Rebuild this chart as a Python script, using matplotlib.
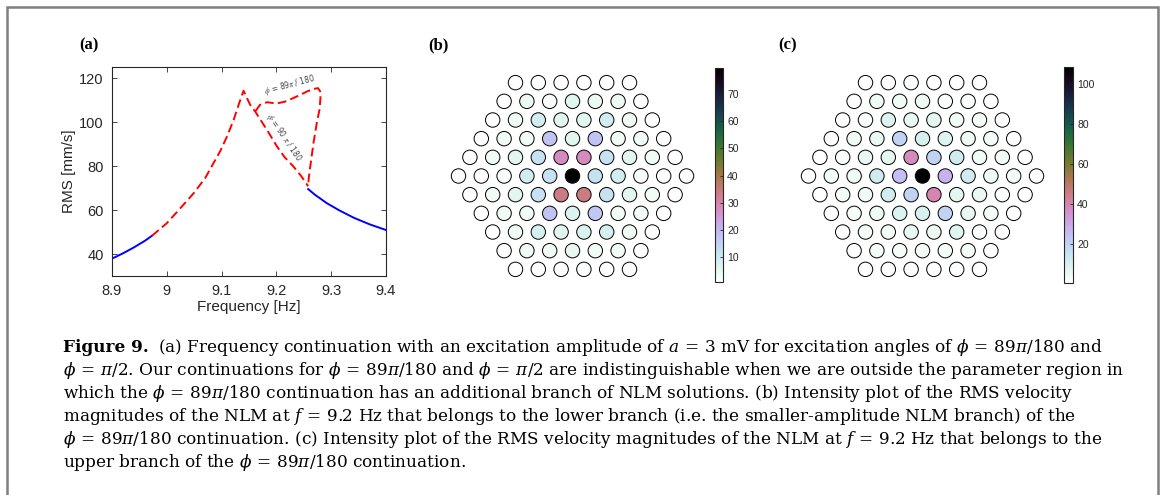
import numpy as np
import matplotlib
matplotlib.use("Agg")
import matplotlib.pyplot as plt
from matplotlib.patches import Rectangle

plt.rcParams['mathtext.fontset'] = 'stix'
plt.rcParams['font.family'] = ['Liberation Sans', 'DejaVu Sans']

# ---- panel (a): frequency continuation ----
blue_left_f = [8.9, 8.92, 8.94, 8.96, 8.973]
blue_left_rms = [37.9, 40.3, 43.0, 46.0, 48.3]
blue_right_f = [9.258, 9.27, 9.292, 9.315, 9.341, 9.37, 9.4]
blue_right_rms = [69.5, 67.0, 63.1, 59.8, 56.5, 53.5, 50.9]
lower_f = [8.973, 9.0, 9.02, 9.049, 9.07, 9.098, 9.11, 9.122, 9.132, 9.14,
           9.146, 9.152, 9.162, 9.171, 9.185, 9.201, 9.215, 9.231, 9.245, 9.258]
lower_rms = [48.3, 54.0, 59.5, 67.6, 74.5, 87.0, 93.5, 101.0, 108.5, 114.2,
             111.0, 107.9, 104.5, 101.0, 95.5, 88.9, 84.0, 79.8, 75.5, 70.8]
upper_f = [9.162, 9.17, 9.183, 9.2, 9.215, 9.231, 9.245, 9.256, 9.268, 9.276,
           9.281, 9.279, 9.274, 9.268, 9.263, 9.259, 9.258]
upper_rms = [105.0, 107.8, 109.0, 108.4, 109.2, 110.9, 112.5, 113.9, 115.0, 115.4,
             113.5, 106.0, 100.0, 91.0, 82.0, 74.5, 70.8]
xticks_a = [8.9, 9.0, 9.1, 9.2, 9.3, 9.4]
xticklabels_a = ['8.9', '9', '9.1', '9.2', '9.3', '9.4']
yticks_a = [40, 60, 80, 100, 120]

# ---- panels (b), (c): RMS velocity of each cell, hex rows top to bottom ----
rms_lower = [
    [1.0, 1.2, 1.0, 1.1, 1.0, 1.0],
    [1.0, 4.0, 2.0, 6.0, 4.0, 4.0, 1.0],
    [1.0, 3.0, 9.0, 6.0, 6.0, 9.0, 3.0, 1.0],
    [1.0, 3.0, 3.0, 18.0, 6.0, 18.0, 3.0, 3.0, 1.0],
    [1.0, 3.0, 6.0, 12.0, 28.0, 28.0, 12.0, 6.0, 3.0, 1.0],
    [0.8, 1.0, 2.0, 9.0, 12.0, 79.6, 12.0, 9.0, 2.0, 1.0, 0.8],
    [1.0, 3.0, 6.0, 12.0, 34.0, 34.0, 12.0, 6.0, 3.0, 1.0],
    [1.0, 3.0, 3.0, 18.0, 7.0, 17.0, 3.0, 3.0, 1.0],
    [1.0, 3.0, 8.0, 6.0, 7.0, 8.0, 3.0, 1.0],
    [1.0, 3.0, 3.0, 5.0, 3.0, 3.0, 1.0],
    [1.0, 1.1, 1.0, 1.2, 1.0, 1.0],
]
rms_upper = [
    [1.0, 1.0, 1.2, 1.0, 1.0, 1.0],
    [1.0, 4.0, 4.0, 4.0, 2.0, 2.0, 1.0],
    [1.0, 1.5, 9.0, 6.0, 7.0, 4.0, 3.0, 1.0],
    [1.0, 4.0, 6.0, 20.0, 10.0, 9.0, 4.0, 3.0, 1.0],
    [1.0, 1.5, 6.0, 7.0, 38.0, 20.0, 12.0, 4.0, 3.0, 1.0],
    [0.6, 3.0, 4.0, 12.0, 25.0, 108.5, 28.0, 12.0, 4.0, 3.0, 0.6],
    [1.0, 3.0, 4.0, 12.0, 20.0, 40.0, 7.0, 6.0, 1.5, 1.0],
    [1.0, 3.0, 4.0, 9.0, 10.0, 20.0, 6.0, 3.0, 1.0],
    [1.0, 3.0, 3.0, 6.0, 5.0, 8.0, 1.5, 1.0],
    [1.0, 3.0, 3.0, 3.0, 3.0, 3.0, 1.0],
    [1.0, 1.0, 1.0, 1.0, 1.2, 1.0],
]
cbar_ticks_lower = [10, 20, 30, 40, 50, 60, 70]
cbar_ticks_upper = [20, 40, 60, 80, 100]

caption_head = "Figure 9."
caption_lines = [
    r"(a) Frequency continuation with an excitation amplitude of $a\,=\,3$ mV for excitation angles of $\phi\,=\,89\pi/180$ and",
    r"$\phi\,=\,\pi/2$. Our continuations for $\phi\,=\,89\pi/180$ and $\phi\,=\,\pi/2$ are indistinguishable when we are outside the parameter region in",
    r"which the $\phi\,=\,89\pi/180$ continuation has an additional branch of NLM solutions. (b) Intensity plot of the RMS velocity",
    r"magnitudes of the NLM at $f\,=\,9.2$ Hz that belongs to the lower branch (i.e. the smaller-amplitude NLM branch) of the",
    r"$\phi\,=\,89\pi/180$ continuation. (c) Intensity plot of the RMS velocity magnitudes of the NLM at $f\,=\,9.2$ Hz that belongs to the",
    r"upper branch of the $\phi\,=\,89\pi/180$ continuation.",
]

W, H = 1163, 495
fig = plt.figure(figsize=(W / 100, H / 100), dpi=100)


def px_axes(x0, y0, x1, y1):
    # axes from pixel box (top-left origin)
    return fig.add_axes([x0 / W, 1 - y1 / H, (x1 - x0) / W, (y1 - y0) / H])


# frame around the figure
fig.patches.append(Rectangle((7 / W, -0.2), (1158 - 7) / W, 1.2 - 7 / H,
                             transform=fig.transFigure, fill=False,
                             edgecolor='#7f7f7f', lw=1.8, clip_on=False))

# ---- (a) ----
ax = px_axes(112, 67, 386, 276)
dash = (4.5, 2.2)
ax.plot(blue_left_f, blue_left_rms, color='#0000ff', lw=1.4)
ax.plot(blue_right_f, blue_right_rms, color='#0000ff', lw=1.4)
ax.plot(lower_f, lower_rms, color='#ff0000', lw=1.4, dashes=dash)
ax.plot(upper_f, upper_rms, color='#ff0000', lw=1.4, dashes=dash)
ax.set_xlim(8.9, 9.4)
ax.set_ylim(30, 125)
ax.set_xticks(xticks_a)
ax.set_xticklabels(xticklabels_a)
ax.set_yticks(yticks_a)
ax.tick_params(direction='in', top=True, right=True, length=3.5, width=0.6,
               labelsize=10.5, colors='#262626', pad=6)
for s in ax.spines.values():
    s.set_linewidth(0.8)
    s.set_color('#262626')
ax.set_xlabel('Frequency [Hz]', fontsize=11, color='#262626', labelpad=1)
ax.set_ylabel('RMS [mm/s]', fontsize=11, color='#262626', labelpad=2)
ax.text(9.224, 117.0, r'$\phi$ = 89$\pi$ / 180', fontsize=5.5, color='#444444',
        rotation=15, ha='center', va='center', family='DejaVu Sans')
ax.text(9.213, 93.0, r'$\phi$ = 90 $\pi$ / 180', fontsize=5.5, color='#444444',
        rotation=-56, ha='center', va='center', family='DejaVu Sans')


def hex_panel(vals, box, cbox, ticks):
    axh = px_axes(*box)
    xs, ys, cs = [], [], []
    nrows = len(vals)
    for i, row in enumerate(vals):
        n = len(row)
        xs += list(np.arange(n) - (n - 1) / 2)
        ys += [(nrows - 1) / 2 - i] * n
        cs += row
    sc = axh.scatter(xs, ys, c=cs, cmap='cubehelix_r', s=108,
                     edgecolors='black', linewidths=0.7,
                     vmin=min(cs), vmax=max(cs))
    # pixel spacing 22.8 (x), 18.67 (y)
    wpx = box[2] - box[0]
    hpx = box[3] - box[1]
    axh.set_xlim(-wpx / 2 / 22.8, wpx / 2 / 22.8)
    axh.set_ylim(-hpx / 2 / 18.67, hpx / 2 / 18.67)
    axh.axis('off')
    cax = px_axes(*cbox)
    cb = fig.colorbar(sc, cax=cax, ticks=ticks)
    cb.outline.set_linewidth(0.8)
    cb.outline.set_edgecolor('#262626')
    cax.tick_params(direction='in', length=2.5, width=0.6, labelsize=7.5,
                    colors='#262626', pad=3)
    return axh


hex_panel(rms_lower, (450, 70, 695, 282), (715, 68, 723, 282), cbar_ticks_lower)
hex_panel(rms_upper, (800, 70, 1045, 282), (1064, 67, 1073, 283), cbar_ticks_upper)

# panel letters
for lab, xp in [('(a)', 79), ('(b)', 428), ('(c)', 778)]:
    fig.text(xp / W, 1 - 49 / H, lab, fontsize=12, fontweight='bold',
             family='Liberation Serif', va='baseline')

# caption: one common font size, fitted to the line widths of the original
base = [352, 375, 398, 421, 444, 467]
right = [1077, 1133, 1107, 1050, 1104]
cap_kw = dict(family='DejaVu Serif', math_fontfamily='dejavuserif', va='baseline')
rend = fig.canvas.get_renderer()
head = fig.text(63 / W, 1 - base[0] / H, caption_head, fontsize=12,
                fontweight='bold', **cap_kw)
texts = [fig.text(63 / W, 1 - b / H, line, fontsize=12, **cap_kw)
         for b, line in zip(base, caption_lines)]
gap = 9
widths = [head.get_window_extent(rend).width + gap + texts[0].get_window_extent(rend).width]
widths += [t.get_window_extent(rend).width for t in texts[1:5]]
size = 12 * sum(r - 63 for r in right) / sum(widths)
head.set_fontsize(size)
for t in texts:
    t.set_fontsize(size)
hw = head.get_window_extent(rend).width
texts[0].set_x((63 + hw + gap) / W)

fig.savefig('out.png', dpi=100)
